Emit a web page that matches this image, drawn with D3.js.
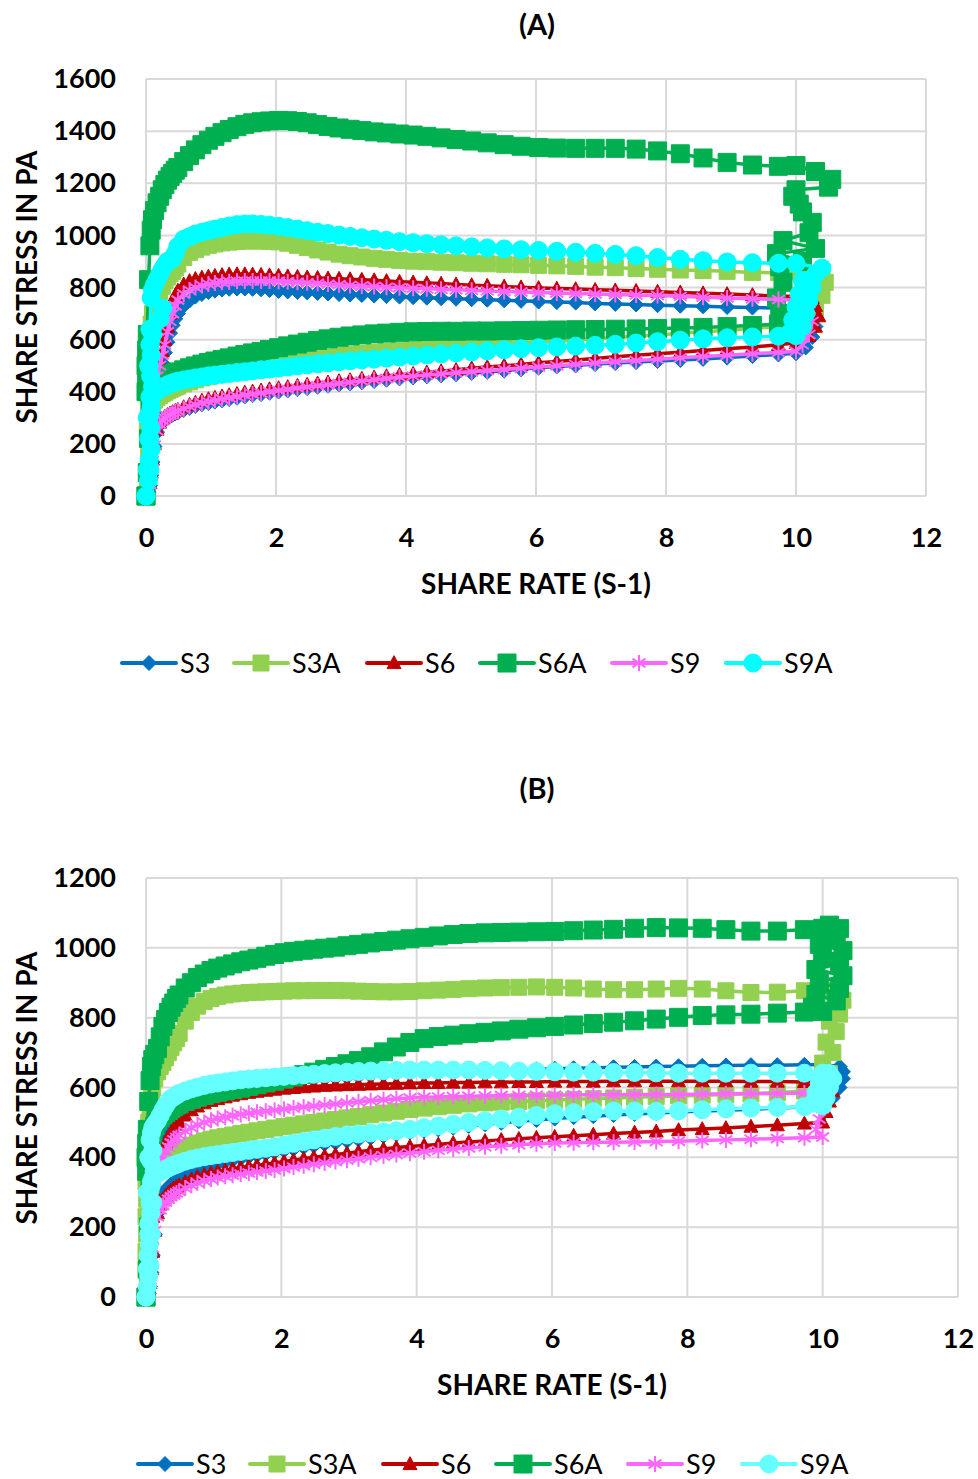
<!DOCTYPE html>
<html><head><meta charset="utf-8">
<script src="https://cdn.jsdelivr.net/npm/d3@7"></script>
<style>
body{margin:0;background:#fff;}
svg text{font-family:Lato,"Open Sans",sans-serif;}
</style></head><body>
<svg id="chart" width="978" height="1479"></svg>
<script>
const seriesNames = ["S3","S3A","S6","S6A","S9","S9A"];
const xTicks = [0,2,4,6,8,10,12];
const yTicksA = [0,200,400,600,800,1000,1200,1400,1600];
const yTicksB = [0,200,400,600,800,1000,1200];

// shared shear-rate grid (s^-1), used for the ramp up (lower branch) and back down (upper branch)
const shearRate = [0,0.02,0.04,0.06,0.08,0.10,0.13,0.17,0.21,0.25,
0.29,0.33,0.37,0.41,0.45,0.49,0.58,0.67,0.76,0.86,
0.96,1.06,1.17,1.28,1.40,1.52,1.64,1.77,1.90,2.04,
2.18,2.33,2.48,2.64,2.80,2.97,3.14,3.32,3.51,3.70,
3.90,4.11,4.32,4.54,4.77,5.01,5.25,5.51,5.77,6.04,
6.32,6.61,6.91,7.22,7.54,7.87,8.22,8.57,8.94,9.33,
9.73,10.0];

// ---------- Panel (A) ----------
const A_S3_up = [0,0,15,40,80,130,190,245,272,285,
294,301,307,312,317,321,330,338,345,352,
357,362,367,372,377,382,387,391,396,401,
405,410,414,419,423,428,432,436,441,446,
451,455,459,463,467,472,476,481,486,492,
497,501,506,510,514,518,522,526,531,537,
543,548];
const A_S3_down = [0,30,70,120,170,230,320,420,465,510,
550,590,625,655,680,700,730,750,765,775,
783,788,792,795,796,796,795,793,790,787,
785,783,781,779,777,775,773,771,769,767,
765,763,761,759,757,755,753,751,749,746,
744,742,739,737,735,732,730,728,725,723,
721,720];
const A_S3_holdRate = [10.15,10.25,10.3,10.25,10.2];
const A_S3_holdStress = [570,610,650,690,715];
const A_S3_tailRate = [];
const A_S3_tailStress = [];

const A_S3A_up = [0,60,150,250,320,355,368,378,385,392,
398,404,409,414,418,422,430,438,446,453,
459,465,471,477,483,488,493,498,503,509,
514,519,524,529,534,539,543,547,551,555,
559,563,566,570,573,576,579,582,586,590,
594,598,603,608,613,618,624,630,636,643,
650,655];
const A_S3A_down = [0,250,450,580,660,700,735,765,785,805,
825,840,852,862,875,890,915,935,945,955,
962,967,971,974,977,978,979,978,977,975,
970,962,953,944,936,928,922,917,912,908,
904,901,899,897,895,893,891,889,887,885,
883,881,878,876,873,870,867,865,862,858,
857,860];
const A_S3A_holdRate = [10.2,10.3,10.4,10.45,10.4];
const A_S3A_holdStress = [680,720,770,820,860];
const A_S3A_tailRate = [];
const A_S3A_tailStress = [];

const A_S6_up = [0,0,20,50,90,140,200,255,282,295,
304,311,317,322,327,331,341,350,358,366,
372,377,382,387,392,397,401,405,410,414,
418,423,427,432,436,441,445,450,455,460,
465,469,474,479,484,490,495,500,505,511,
516,522,528,534,540,546,552,558,565,572,
580,588];
const A_S6_down = [0,40,100,170,250,330,410,480,520,555,
600,650,700,745,770,788,812,825,833,838,
842,845,848,850,851,851,850,849,847,845,
843,841,839,837,835,834,832,830,828,825,
822,820,817,815,812,809,807,804,801,798,
796,794,791,789,787,784,781,778,775,771,
767,765];
const A_S6_holdRate = [10.2,10.3,10.35,10.3,10.25];
const A_S6_holdStress = [615,650,690,730,760];
const A_S6_tailRate = [];
const A_S6_tailStress = [];

const A_S6A_up = [0,90,220,340,400,420,430,438,444,450,
455,460,464,468,472,476,484,492,499,506,
512,518,524,530,537,543,549,555,562,569,
576,583,590,597,603,609,614,618,622,625,
628,630,631,632,632,633,633,634,635,636,
637,638,639,640,641,643,645,647,650,654,
660,666];
const A_S6A_down = [0,620,830,960,1020,1060,1095,1125,1150,1175,
1195,1212,1226,1238,1250,1260,1283,1306,1328,1348,
1365,1380,1394,1406,1417,1426,1432,1436,1439,1441,
1440,1437,1432,1425,1418,1412,1407,1402,1397,1393,
1389,1385,1380,1374,1368,1362,1355,1348,1342,1337,
1335,1334,1334,1334,1331,1324,1313,1297,1280,1270,
1265,1268];
const A_S6A_holdRate = [9.75,9.7,9.8,9.75,10.1,9.7,10.3,9.8,10.2,10.25,10.1,10.05,9.95,10.0,10.5,10.55,10.3];
const A_S6A_holdStress = [700,760,820,880,900,930,950,980,1010,1050,1090,1120,1150,1175,1185,1215,1245];
const A_S6A_tailRate = [0.01,0.0,0.01,0.0];
const A_S6A_tailStress = [560,500,450,400];

const A_S9_up = [0,0,15,45,85,135,195,250,277,290,
299,306,312,317,322,326,335,343,350,357,
362,367,372,377,382,387,391,395,400,405,
409,414,418,423,427,432,436,441,446,451,
456,460,464,468,473,477,481,485,490,495,
500,505,510,515,520,525,530,535,540,546,
551,555];
const A_S9_down = [0,35,90,160,240,320,400,460,500,540,
580,630,670,700,730,752,775,790,800,808,
813,817,820,822,824,825,825,825,825,824,
822,820,818,816,813,811,808,806,804,801,
799,797,795,793,791,789,787,785,783,781,
779,777,775,773,771,769,766,763,760,757,
754,752];
const A_S9_holdRate = [10.1,10.2,10.25,10.2,10.1];
const A_S9_holdStress = [580,620,670,710,745];
const A_S9_tailRate = [];
const A_S9_tailStress = [];

const A_S9A_up = [0,100,220,320,370,385,395,403,410,416,
421,426,430,434,437,440,445,449,453,457,
461,464,467,470,474,477,480,484,487,491,
495,499,503,507,511,515,519,522,525,529,
533,537,541,545,549,553,557,561,565,569,
572,575,578,582,587,592,598,603,607,610,
613,615];
const A_S9A_down = [0,300,500,640,760,790,810,830,850,870,
885,900,905,910,930,958,985,995,1005,1012,
1018,1024,1030,1036,1041,1044,1044,1042,1039,1035,
1030,1024,1018,1012,1007,1001,996,991,986,981,
976,972,968,964,960,956,952,948,945,942,
939,935,931,927,922,915,908,903,898,895,
893,892];
const A_S9A_holdRate = [9.9,10.1,9.95,10.15,10.0,10.2,10.05,10.25,10.1,10.3,10.4];
const A_S9A_holdStress = [625,650,675,700,725,750,775,800,825,850,875];
const A_S9A_tailRate = [0.26,0.22,0.1,0.06,0.08,0.05,0.07,0.1,0.06,0.08,0.05,0.07,0.06,0.08,0.05,0.06,0.04];
const A_S9A_tailStress = [720,680,620,580,540,500,460,420,380,340,300,260,220,180,140,100,60];

// ---------- Panel (B) ----------
const B_S3_up = [0,0,10,30,70,120,180,240,275,295,
305,315,323,330,336,341,350,358,365,371,
377,382,387,392,397,402,406,410,415,420,
424,429,433,438,442,447,451,456,461,466,
471,476,480,485,490,495,499,503,507,511,
515,518,521,524,527,530,533,535,538,541,
544,545];
const B_S3_down = [0,30,70,120,180,240,310,380,430,465,
485,500,512,522,530,538,550,560,569,577,
583,588,593,597,601,605,608,611,614,617,
620,622,624,626,628,630,632,634,636,638,
640,642,644,645,647,649,650,651,652,654,
655,656,658,659,660,661,662,663,664,664,
665,665];
const B_S3_holdRate = [10.15,10.25,10.3,10.3,10.25];
const B_S3_holdStress = [570,600,625,645,660];
const B_S3_tailRate = [];
const B_S3_tailStress = [];

const B_S3A_up = [0,60,160,260,320,350,362,372,380,386,
392,398,404,409,414,419,428,435,441,447,
452,456,460,464,468,472,476,480,484,488,
492,496,500,504,508,513,517,522,527,532,
537,541,545,549,553,556,558,560,562,564,
566,568,570,572,574,576,578,580,582,585,
590,595];
const B_S3A_down = [0,430,500,540,570,600,625,645,660,672,
685,700,715,728,740,755,790,815,833,846,
855,861,865,868,870,872,873,874,875,876,
877,877,878,878,878,877,876,875,874,874,
875,877,879,881,883,885,886,887,888,887,
885,882,880,880,882,884,882,877,872,873,
877,879];
const B_S3A_holdRate = [9.95,10.1,10.0,10.15,10.05,10.2,10.1,10.25,10.2,10.3,10.25];
const B_S3A_holdStress = [610,640,670,700,730,760,790,810,830,850,870];
const B_S3A_tailRate = [0.01,0.0,0.01,0.0,0.01,0.0,0.0];
const B_S3A_tailStress = [380,330,280,230,180,130,80];

const B_S6_up = [0,0,15,40,80,130,190,240,265,280,
290,298,305,311,316,320,329,337,344,350,
355,359,363,367,371,374,377,380,384,388,
392,396,400,404,408,412,416,420,424,428,
431,434,437,441,444,447,450,453,456,459,
462,465,468,471,474,478,481,484,488,492,
497,500];
const B_S6_down = [0,30,70,120,170,230,300,360,400,425,
443,458,472,484,494,502,520,535,546,555,
562,567,572,577,581,585,588,591,594,597,
599,601,603,605,606,607,608,609,610,611,
612,613,613,614,614,615,615,616,616,617,
617,617,618,618,618,618,618,618,617,617,
616,616];
const B_S6_holdRate = [10.05,10.1,10.15,10.1];
const B_S6_holdStress = [530,560,590,610];
const B_S6_tailRate = [];
const B_S6_tailStress = [];

const B_S6A_up = [0,80,200,320,420,470,490,505,515,522,
528,534,540,545,550,553,560,566,572,577,
582,586,590,594,598,603,608,613,618,624,
630,637,644,652,660,668,677,688,702,716,
729,740,746,750,754,758,762,767,771,775,
779,783,787,791,796,801,806,808,810,813,
816,818];
const B_S6A_down = [0,480,560,620,660,680,695,712,745,775,
795,815,830,842,855,865,885,900,915,925,
935,942,948,954,960,965,970,976,981,986,
990,993,996,999,1002,1006,1010,1014,1018,1022,
1026,1030,1034,1038,1041,1043,1044,1045,1046,1047,
1049,1051,1053,1056,1058,1057,1056,1052,1048,1048,
1052,1056];
const B_S6A_holdRate = [9.85,10.2,9.9,10.25,9.95,10.3,9.9,10.25,10.0,10.3,9.95,10.2,10.05,10.25,10.1];
const B_S6A_holdStress = [830,848,866,884,902,920,938,956,974,992,1010,1028,1042,1055,1065];
const B_S6A_tailRate = [0.01,0.0,0.01];
const B_S6A_tailStress = [440,400,360];

const B_S9_up = [0,5,20,50,90,140,190,230,250,262,
272,280,287,293,298,303,312,320,327,333,
338,342,346,349,352,355,358,361,364,368,
372,376,380,384,388,392,396,400,404,408,
412,416,420,424,427,430,433,436,439,441,
442,443,443,444,445,446,448,450,452,454,
456,458];
const B_S9_down = [0,40,100,170,240,290,330,365,385,402,
418,430,441,450,457,463,475,485,493,500,
506,511,515,519,523,526,529,532,535,538,
541,544,547,550,553,556,559,562,565,568,
570,572,573,574,575,576,577,577,578,578,
579,579,579,580,580,580,581,582,583,583,
584,584];
const B_S9_holdRate = [9.9,9.95,10.0,10.05,10.0];
const B_S9_holdStress = [480,510,540,565,580];
const B_S9_tailRate = [];
const B_S9_tailStress = [];

const B_S9A_up = [0,80,180,270,320,340,348,354,358,362,
366,370,374,377,380,383,389,394,398,402,
405,408,411,414,417,420,423,426,430,435,
440,445,450,455,460,464,467,470,473,476,
480,485,490,495,500,505,510,515,520,525,
528,531,533,533,532,533,536,539,541,543,
545,548];
const B_S9A_down = [0,300,400,450,470,485,495,505,520,535,
548,560,568,573,578,583,590,596,601,606,
610,613,616,619,622,624,626,628,630,632,
634,636,638,640,642,644,646,647,648,649,
650,650,650,650,650,649,648,647,646,645,
644,644,643,643,642,641,641,641,641,641,
641,641];
const B_S9A_holdRate = [9.85,10.05,9.9,10.1,9.95,10.15,10.0,10.1];
const B_S9A_holdStress = [555,570,585,600,612,625,635,640];
const B_S9A_tailRate = [0.1,0.07,0.12,0.08,0.05,0.1,0.07,0.04,0.08,0.05,0.03,0.06,0.04,0.02];
const B_S9A_tailStress = [420,390,360,330,300,270,240,210,180,150,120,90,60,30];

// ---------- styling ----------
const colorsA = {S3:"#0070C0",S3A:"#92D050",S6:"#C00000",S6A:"#00B050",S9:"#FF66FF",S9A:"#00FFFF"};
const colorsB = {S3:"#0070C0",S3A:"#92D050",S6:"#C00000",S6A:"#00B050",S9:"#FF66FF",S9A:"#66FFFF"};
const markerType = {S3:"diamond",S3A:"square",S6:"triangle",S6A:"square",S9:"star",S9A:"circle"};
const markerSize = {S3:7.5,S3A:8,S6:7,S6A:9,S9:8,S9A:9};

function markerPath(type, s){
  if(type==="diamond") return `M0,${-s}L${s},0L0,${s}L${-s},0Z`;
  if(type==="square") return `M${-s},${-s}H${s}V${s}H${-s}Z`;
  if(type==="triangle") return `M0,${-s*1.05}L${s},${s*0.8}L${-s},${s*0.8}Z`;
  if(type==="star"){const a=s*0.8,b=s*0.55;return `M0,${-s}V${s}M${-a},${-b}L${a},${b}M${-a},${b}L${a},${-b}`;}
  return d3.symbol(d3.symbolCircle, Math.PI*s*s)();
}

function buildLoop(up, holdRate, holdStress, down, tailRate, tailStress){
  if(up.length!==shearRate.length||down.length!==shearRate.length) throw new Error("length mismatch");
  const pts = [];
  shearRate.forEach((r,i)=>pts.push([r, up[i]]));
  holdRate.forEach((r,i)=>pts.push([r, holdStress[i]]));
  for(let i=shearRate.length-1;i>=1;i--) pts.push([shearRate[i], down[i]]);
  tailRate.forEach((r,i)=>pts.push([r, tailStress[i]]));
  pts.push([shearRate[0], down[0]]);
  return pts;
}

const seriesA = {
  S3: buildLoop(A_S3_up, A_S3_holdRate, A_S3_holdStress, A_S3_down, A_S3_tailRate, A_S3_tailStress),
  S3A: buildLoop(A_S3A_up, A_S3A_holdRate, A_S3A_holdStress, A_S3A_down, A_S3A_tailRate, A_S3A_tailStress),
  S6: buildLoop(A_S6_up, A_S6_holdRate, A_S6_holdStress, A_S6_down, A_S6_tailRate, A_S6_tailStress),
  S6A: buildLoop(A_S6A_up, A_S6A_holdRate, A_S6A_holdStress, A_S6A_down, A_S6A_tailRate, A_S6A_tailStress),
  S9: buildLoop(A_S9_up, A_S9_holdRate, A_S9_holdStress, A_S9_down, A_S9_tailRate, A_S9_tailStress),
  S9A: buildLoop(A_S9A_up, A_S9A_holdRate, A_S9A_holdStress, A_S9A_down, A_S9A_tailRate, A_S9A_tailStress)
};
const seriesB = {
  S3: buildLoop(B_S3_up, B_S3_holdRate, B_S3_holdStress, B_S3_down, B_S3_tailRate, B_S3_tailStress),
  S3A: buildLoop(B_S3A_up, B_S3A_holdRate, B_S3A_holdStress, B_S3A_down, B_S3A_tailRate, B_S3A_tailStress),
  S6: buildLoop(B_S6_up, B_S6_holdRate, B_S6_holdStress, B_S6_down, B_S6_tailRate, B_S6_tailStress),
  S6A: buildLoop(B_S6A_up, B_S6A_holdRate, B_S6A_holdStress, B_S6A_down, B_S6A_tailRate, B_S6A_tailStress),
  S9: buildLoop(B_S9_up, B_S9_holdRate, B_S9_holdStress, B_S9_down, B_S9_tailRate, B_S9_tailStress),
  S9A: buildLoop(B_S9A_up, B_S9A_holdRate, B_S9A_holdStress, B_S9A_down, B_S9A_tailRate, B_S9A_tailStress)
};

const panels = [
  {title:"(A)", titleY:35, left:146, right:926, top:79, bottom:496, yMax:1600, yTicks:yTicksA,
   xLabelX:536, xLabelY:594, yLabelY:287, legendX:122, legendY:663, data:seriesA, colors:colorsA},
  {title:"(B)", titleY:799, left:146, right:958, top:878, bottom:1297, yMax:1200, yTicks:yTicksB,
   xLabelX:552, xLabelY:1395, yLabelY:1088, legendX:138, legendY:1464, data:seriesB, colors:colorsB}
];
const legendOffsets = [0,112,245,358,490,604];

const svg = d3.select("#chart");
panels.forEach(p=>{
  const x = d3.scaleLinear().domain([0,12]).range([p.left,p.right]);
  const y = d3.scaleLinear().domain([0,p.yMax]).range([p.bottom,p.top]);
  const g = svg.append("g");
  g.append("g").selectAll("line").data(p.yTicks).join("line")
    .attr("x1",p.left).attr("x2",p.right).attr("y1",d=>y(d)).attr("y2",d=>y(d))
    .attr("stroke","#d9d9d9").attr("stroke-width",2);
  g.append("g").selectAll("line").data(xTicks).join("line")
    .attr("x1",d=>x(d)).attr("x2",d=>x(d)).attr("y1",p.top).attr("y2",p.bottom)
    .attr("stroke","#d9d9d9").attr("stroke-width",2);

  const ya = g.append("g").attr("transform",`translate(${p.left},0)`)
    .call(d3.axisLeft(y).tickValues(p.yTicks).tickSize(0).tickPadding(30).tickFormat(d3.format("d")));
  ya.select(".domain").remove();
  ya.selectAll("text").attr("font-family","Lato").attr("font-weight",700).attr("font-size",27).attr("fill","#000");
  const xa = g.append("g").attr("transform",`translate(0,${p.bottom})`)
    .call(d3.axisBottom(x).tickValues(xTicks).tickSize(0).tickPadding(32).tickFormat(d3.format("d")));
  xa.select(".domain").remove();
  xa.selectAll("text").attr("font-family","Lato").attr("font-weight",700).attr("font-size",27).attr("fill","#000");

  const line = d3.line().x(d=>x(d[0])).y(d=>y(d[1]));
  seriesNames.forEach(n=>{
    const col = p.colors[n];
    const sg = g.append("g");
    sg.append("path").attr("d",line(p.data[n])).attr("fill","none").attr("stroke",col)
      .attr("stroke-width",3.5).attr("stroke-linejoin","round");
    const mp = markerPath(markerType[n], markerSize[n]);
    sg.selectAll("path.m").data(p.data[n]).join("path").attr("class","m")
      .attr("transform",d=>`translate(${x(d[0])},${y(d[1])})`).attr("d",mp)
      .attr("fill", markerType[n]==="star"?"none":col).attr("stroke",col)
      .attr("stroke-width", markerType[n]==="star"?2:1);
  });

  svg.append("text").attr("x",537).attr("y",p.titleY).attr("text-anchor","middle")
    .attr("font-weight",700).attr("font-size",29).text(p.title);
  svg.append("text").attr("x",p.xLabelX).attr("y",p.xLabelY).attr("text-anchor","middle")
    .attr("font-weight",700).attr("font-size",28).text("SHARE RATE (S-1)");
  svg.append("text").attr("transform",`translate(37,${p.yLabelY}) rotate(-90)`).attr("text-anchor","middle")
    .attr("font-weight",700).attr("font-size",28).text("SHARE STRESS IN PA");

  const lg = svg.append("g");
  seriesNames.forEach((n,i)=>{
    const lx = p.legendX + legendOffsets[i], ly = p.legendY;
    const col = p.colors[n];
    lg.append("line").attr("x1",lx).attr("x2",lx+54).attr("y1",ly).attr("y2",ly)
      .attr("stroke",col).attr("stroke-width",4).attr("stroke-linecap","round");
    lg.append("path").attr("transform",`translate(${lx+27},${ly})`).attr("d",markerPath(markerType[n],markerSize[n]))
      .attr("fill", markerType[n]==="star"?"none":col).attr("stroke",col).attr("stroke-width",markerType[n]==="star"?2:1);
    lg.append("text").attr("x",lx+58).attr("y",ly+10).attr("font-size",27).attr("fill","#000").text(n);
  });
});
</script>
</body></html>
